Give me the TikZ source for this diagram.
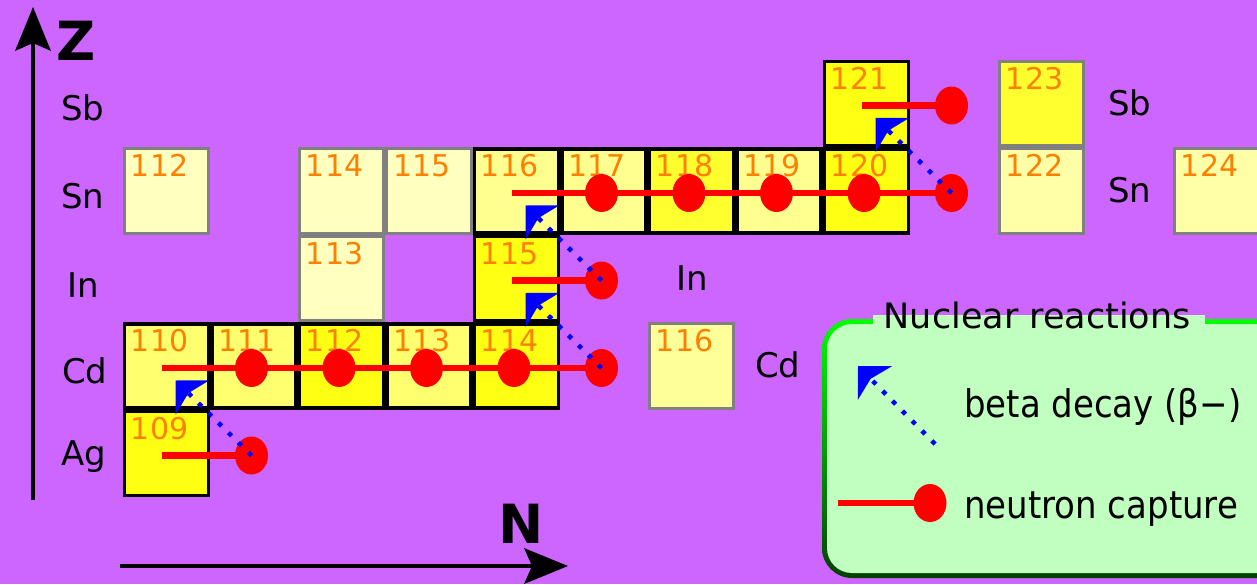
\documentclass[tikz,border=0pt]{standalone}
\usepackage{fontspec}
\setmainfont{DejaVu Sans}
\usepackage{graphicx}
\usetikzlibrary{arrows.meta,shapes.geometric,calc}
\definecolor{bg}{HTML}{CC66FF}
\definecolor{ybright}{HTML}{FFFF14}
\definecolor{ybright2}{HTML}{FFFF30}
\definecolor{ylight}{HTML}{FFFF70}
\definecolor{ylight2}{HTML}{FFFF90}
\definecolor{ypale}{HTML}{FFFFC0}
\definecolor{ypale2}{HTML}{FFFFA8}
\definecolor{ycd}{HTML}{FFFF99}
\definecolor{numc}{HTML}{FF8000}
\definecolor{gborder}{HTML}{808080}
\definecolor{legfill}{HTML}{C0FFC0}
\definecolor{lgtop}{HTML}{00FF00}
\definecolor{lgmid}{HTML}{00A000}
\definecolor{lgbot}{HTML}{004000}
\definecolor{betac}{HTML}{0000FF}
\definecolor{capc}{HTML}{FF0000}
\newcommand\nuc[5]{%
  \node[#4] (#1) at ({166.5+87.5*(#2-62)},{103.5+87.5*(51-#3)}) {};
  \node[num] (#1n) at ([xshift=8pt,yshift=-29.5pt]#1.north west) {#5};
}
\newcommand\dotat[3]{%
  \node[capdot] (#1) at ({164+87.5*(#2-62)},{105.5+87.5*(51-#3)}) {};
}
\begin{document}
\begin{tikzpicture}[x=1pt,y=-1pt,
  pcell/.style={draw=black, line width=3.5pt, minimum size=84pt, inner sep=0pt, fill=#1},
  scell/.style={draw=gborder, line width=3pt, minimum size=84.5pt, inner sep=0pt, fill=#1},
  num/.style={anchor=base west, inner sep=0pt, text=numc, font=\fontsize{30}{30}\selectfont},
  capdot/.style={ellipse, fill=capc, minimum width=33pt, minimum height=38pt, inner sep=0pt},
  capline/.style={draw=capc, line width=6.5pt},
  beta/.style={draw=betac, line width=4.5pt, dash pattern=on 4.5pt off 9.5pt,
    -{Stealth[length=24pt,width=48pt,inset=6pt,line width=0pt]}},
  elab/.style={anchor=base west, inner sep=0pt, font=\fontsize{34}{34}\selectfont},
  axlab/.style={anchor=base west, inner sep=0pt, font=\fontsize{54}{54}\selectfont\bfseries},
  axisarrow/.style={draw=black, line width=#1, -{Stealth[length=44pt,width=36pt,inset=8pt,line width=0pt]}},
  ltext/.style={anchor=base west, inner sep=0pt, font=\fontsize{34}{34}\selectfont},
  ttext/.style={anchor=base west, inner sep=0pt, font=\fontsize{35}{35}\selectfont}
]
\useasboundingbox (0,0) rectangle (1257,584);
\clip (0,0) rectangle (1257,584);
\fill[bg] (0,0) rectangle (1257,584);

% nuclide cells
\nuc{ag109}{62}{47}{pcell=ybright}{109}
\nuc{cd110}{62}{48}{pcell=ylight}{110}
\nuc{cd111}{63}{48}{pcell=ylight}{111}
\nuc{cd112}{64}{48}{pcell=ybright}{112}
\nuc{cd113}{65}{48}{pcell=ylight}{113}
\nuc{cd114}{66}{48}{pcell=ybright}{114}
\nuc{cd116}{68}{48}{scell=ycd}{116}
\nuc{in113}{64}{49}{scell=ypale}{113}
\nuc{in115}{66}{49}{pcell=ybright}{115}
\nuc{sn112}{62}{50}{scell=ypale}{112}
\nuc{sn114}{64}{50}{scell=ypale}{114}
\nuc{sn115}{65}{50}{scell=ypale}{115}
\nuc{sn116}{66}{50}{pcell=ylight2}{116}
\nuc{sn117}{67}{50}{pcell=ylight2}{117}
\nuc{sn118}{68}{50}{pcell=ybright2}{118}
\nuc{sn119}{69}{50}{pcell=ylight2}{119}
\nuc{sn120}{70}{50}{pcell=ybright}{120}
\nuc{sn122}{72}{50}{scell=ypale2}{122}
\nuc{sn124}{74}{50}{scell=ypale2}{124}
\nuc{sb121}{70}{51}{pcell=ybright}{121}
\nuc{sb123}{72}{51}{scell=ybright2}{123}

% neutron capture dots
\dotat{dAg110}{63}{47}
\dotat{dCd111}{63}{48}
\dotat{dCd112}{64}{48}
\dotat{dCd113}{65}{48}
\dotat{dCd114}{66}{48}
\dotat{dCd115}{67}{48}
\dotat{dIn116}{67}{49}
\dotat{dSn117}{67}{50}
\dotat{dSn118}{68}{50}
\dotat{dSn119}{69}{50}
\dotat{dSn120}{70}{50}
\dotat{dSn121}{71}{50}
\dotat{dSb122}{71}{51}

% neutron capture lines
\coordinate (agS) at (161.5,455.5);
\coordinate (cdS) at (161.5,368);
\coordinate (inS) at (511.5,280.5);
\coordinate (snS) at (511.5,193);
\coordinate (sbS) at (861.5,105.5);
\draw[capline] (agS) -- (dAg110.center);
\draw[capline] (cdS) -- (dCd111.center) -- (dCd112.center) -- (dCd113.center) -- (dCd114.center) -- (dCd115.center);
\draw[capline] (inS) -- (dIn116.center);
\draw[capline] (snS) -- (dSn117.center) -- (dSn118.center) -- (dSn119.center) -- (dSn120.center) -- (dSn121.center);
\draw[capline] (sbS) -- (dSb122.center);

% beta decays
\coordinate (tCd110) at ($(dAg110)+(-76,-75)$);
\coordinate (tIn115) at ($(dCd115)+(-76,-75)$);
\coordinate (tSn116) at ($(dIn116)+(-76,-75)$);
\coordinate (tSb121) at ($(dSn121)+(-76,-75)$);
\draw[beta] (dAg110.center) -- (tCd110);
\draw[beta] (dCd115.center) -- (tIn115);
\draw[beta] (dIn116.center) -- (tSn116);
\draw[beta] (dSn121.center) -- (tSb121);

% element labels
\node[elab] (lSb) at (61,120) {Sb};
\node[elab] (lSn) at (61,208) {Sn};
\node[elab] (lIn) at (67,297) {In};
\node[elab] (lCd) at (62,383) {Cd};
\node[elab] (lAg) at (61,465) {Ag};
\node[elab] (rSb) at (1108,115) {Sb};
\node[elab] (rSn) at (1108,202) {Sn};
\node[elab] (rIn) at (676,290) {In};
\node[elab] (rCd) at (755,377) {Cd};

% axes
\coordinate (vB) at (33,500);
\coordinate (vT) at (33,7);
\draw[axisarrow=3.5pt] (vB) -- (vT);
\coordinate (hB) at (120,566);
\coordinate (hT) at (568,566);
\draw[axisarrow=4pt] (hB) -- (hT);
\node[axlab] (zlab) at (56,60) {Z};
\node[axlab] (nlab) at (498,543) {N};

% legend
\shade[top color=lgtop, middle color=lgmid, bottom color=lgbot, rounded corners=30pt]
  (822,319) rectangle (1320,578);
\fill[legfill, rounded corners=25pt] (827,324) rectangle (1315,573);
\fill[legfill] (873,315) rectangle (1205,326);
\node[ttext] (lgTitle) at (883.5,328) {Nuclear reactions};
\coordinate (lbS) at (935,444);
\coordinate (lbT) at (858,366);
\draw[beta] (lbS) -- (lbT);
\node[ltext] (lgBeta) at (964,417) {\scalebox{1}[1.12]{beta decay (β−)}};
\node[capdot] (lgDot) at (930,503) {};
\coordinate (lcS) at (838,503);
\draw[capline] (lcS) -- (lgDot.center);
\node[ltext] (lgCap) at (964,518) {\scalebox{1}[1.12]{neutron capture}};
\end{tikzpicture}
\end{document}
